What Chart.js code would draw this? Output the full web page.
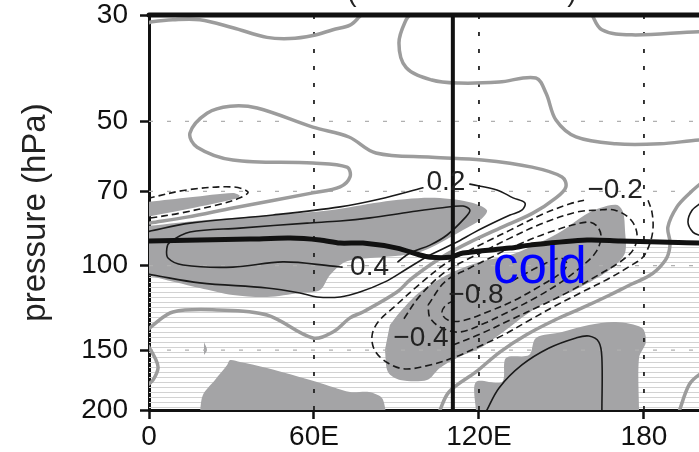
<!DOCTYPE html>
<html>
<head>
<meta charset="utf-8">
<script src="https://cdn.jsdelivr.net/npm/chart.js@4.4.0/dist/chart.umd.min.js"></script>
<style>
  html, body { margin: 0; padding: 0; background: #fff; overflow: hidden; }
  #wrap { width: 699px; height: 452px; overflow: hidden; position: relative; }
  canvas { position: absolute; left: 0; top: 0; }
</style>
</head>
<body>
<div id="wrap"><canvas id="chart" width="760" height="452"></canvas></div>
<script>
// axes
const lonTicks = [0, 60, 120, 180];
const lonTickLabels = ['0', '60E', '120E', '180'];
const presTicks = [30, 50, 70, 100, 150, 200];
const presGrid = [50, 70, 100, 150];
const lonMax = 222.2;

// [lon, hPa] pairs
const tropopause = [[0,88.8],[18.5,88.4],[36.7,88],[51.3,87.6],[62.2,88.4],[69.5,89.7],[77.8,89.7],[90.2,91.9],[98.5,95],[102.2,96],[109.5,96],[114.2,94.1],[131.3,91.9],[138.5,90.6],[159.3,88.4],[171.3,88.8],[185.8,89.3],[200,89.7],[222.2,89.7]];
const divider = [[110.5,30],[110.5,200]];

// shaded (significant) areas
const shadeA = [[-1,73.7],[15,72],[30.5,70.5],[33,71.5],[31,72.6],[15,76],[-1,79.2]];
const shadeB = [[-1,82.7],[21.1,80.3],[45.1,78.4],[65.8,76.6],[84,73.7],[102.2,72.2],[116.7,73.7],[122.9,76.6],[120.4,80.3],[114.2,84.3],[105.8,89.7],[98.5,93.7],[89.5,95.5],[80.4,96.4],[71.3,98.2],[65.8,104.6],[62.2,112.4],[54.9,114],[42.9,116.2],[30.5,115.1],[18.5,111.3],[-1,104.6]];
const shadeC = [[87.6,133],[91.3,124.9],[98.5,113.5],[110.5,103.1],[120.4,98.2],[131.3,95],[138.5,91.5],[149.5,85.1],[158.5,78.4],[164,75.8],[170.2,74.7],[172.4,77.3],[173.1,84.3],[173.1,94.1],[168.4,101.1],[160.4,108.1],[149.5,116.2],[140.7,122.5],[127.3,139.5],[120.4,148.5],[112.7,155.1],[105.8,163.4],[101.1,173.1],[91.3,173.1],[86.9,166.6],[85.8,149.9]];
const shadeD = [[118.9,202],[118.9,174.8],[128.4,174.8],[129.8,155.8],[138.2,153.6],[140.7,141.5],[150.2,137.5],[160,133],[169.8,131.1],[179.3,134.9],[180.7,144.3],[178.2,155.8],[178.2,202]];
const shadeE = [[18.5,202],[19.6,186],[24,173.1],[28.4,161.1],[29.5,157.3],[33.1,158.8],[42.9,163.4],[61.1,174.8],[73.1,183.4],[80,183.4],[84.7,188.7],[86.2,202]];
const shadeF = [[20,144.3],[21.1,149.9],[20,153.6]];

// zero lines (grey)
const zero1 = [[-0.5,31.2],[1.1,31],[8.7,30.7],[18.5,30.7],[30.5,31.9],[42.9,33.4],[51.3,33.6],[59.6,33.1],[66.9,32.2],[73.1,31.5],[76.4,30.3],[78,29.5]];
const zero2 = [[96,29.5],[93.5,30.7],[90.9,34.3],[93.5,38.6],[102.9,41],[112.7,41.6],[127.3,41.4],[140.7,40.6],[144.4,43.7],[148,49.7],[155.3,53.9],[169.8,55.7],[185.8,55.7],[200,54.7],[222,54]];
const zero3 = [[160.5,29.5],[164.7,32.2],[175.6,33],[200,32.5],[222,32.5]];
const zero4 = [[0.4,81.5],[13.8,79.2],[30.5,75.8],[59.6,70.5],[69.5,68.5],[73.1,65.3],[72,62.3],[59.6,61.1],[30.5,60.2],[17.5,56.6],[14.9,52.9],[21.1,48.1],[29.5,46.5],[39.3,46.9],[59.6,51.4],[72.7,53.9],[82.5,58.2],[102.9,59.4],[121.1,60.2],[139.3,62.3],[150.2,65.3],[151.6,68.5],[148,72.2],[139.6,77.7],[127.6,83.5],[116.7,89.3],[108.4,94.6],[102.2,99.7],[94.9,107.1],[90.2,113.5],[77.8,124.9],[73.1,128.5],[66.9,137.5],[59.6,141.5],[42.9,126.7],[24.7,123.7],[8.7,124.9],[1.5,133],[-0.5,136.2]];
const zero5 = [[-0.5,146.4],[2.2,155.8],[3.3,163.4],[1.5,173.1],[-0.5,177.3]];
const zero6 = [[105.5,202],[109.1,183.4],[118.9,166.6],[127.6,151.4],[137.1,139.5],[147.6,129.8],[157.5,122.5],[167.6,115.1],[175.6,109.2],[181.1,105.6],[184.7,102.1],[188.4,96],[189.5,89.7],[188.7,83.1],[192,75.4],[196.7,70.5],[200.7,67.3]];
const zero7 = [[192.7,202],[196.4,177.3],[200,169],[204,165]];

// positive contours (solid)
const pos02a = [[-0.5,84.9],[14.9,81.5],[45.1,78.4],[69.5,75.4],[84,72.6],[99.6,68.8]];
const pos02b = [[116.7,67.6],[126.5,69.5],[132.4,72.2],[136.7,74],[135.6,76.6],[131.3,78.4],[125.8,81.1],[118.5,85.1],[111.3,89.7],[102.2,95],[93.1,102.1],[85.8,108.1],[76.7,113.5],[69.5,116.2],[61.1,116.2],[54.9,114],[42.9,111.3],[18.5,108.6],[1.5,104.6],[-0.5,104.1]];
const pos04 = [[90.5,98.2],[94.9,94.1],[102.2,90.6],[108.4,86.3],[114.9,79.5],[116.7,76.6],[114.2,75.1],[105.8,75.8],[94.9,77.3],[80.4,79.5],[69.5,80.7],[57.5,81.5],[33.1,83.5],[14.9,85.1],[7.6,89.3],[6.5,91.9],[6.9,96.4],[12.4,99.7],[30.5,100.7],[48.7,98.2],[66.9,100.2],[70.2,100.7]];
const posLow = [[122.5,202],[127.3,179.9],[135.6,161.1],[145.5,148.5],[155.3,141.5],[160,140.2],[163.6,144.3],[164.7,155.8],[164.7,202]];
const posEdge = [[200.7,74],[197.5,76.6],[196,81.1],[197.8,85.1],[200.7,86.7]];

// negative contours (dashed)
const negWest = [[-0.5,72.4],[13.8,69.5],[30.5,68.5],[36,70.2],[33.1,72.2],[24.7,74.7],[11.3,77.7],[-0.5,79.7]];
const neg02 = [[181.5,73],[182.9,77.3],[183.3,83.5],[182.2,89.7],[179.6,96],[174.9,100.2],[167.6,106.1],[157.5,113.5],[147.6,121.4],[138.5,129.8],[129.5,138.9],[120.4,147.1],[111.3,155.1],[102.2,161.1],[93.1,164.2],[86.9,159.6],[82.2,150.6],[81.1,140.2],[83.3,131.1],[89.5,121.4],[98.5,109.2],[107.6,99.2],[116.7,92.8],[124,88.4],[131.3,84.3],[143.3,78],[153.1,74.3],[158.2,73]];
const neg04 = [[110.5,146.4],[120.4,138.9],[131.3,129.8],[142.2,121.4],[153.1,113],[164,104.1],[171.3,98.2],[176,92.8],[177.5,86.3],[175.3,80.3],[169.5,76.6],[162.9,76.6],[155.6,77.3],[143.3,81.5],[131.3,87.6],[124,91.9],[116.7,96.4],[107.6,103.1],[98.5,115.6],[92.4,129.8]];
const neg06 = [[101.5,120.8],[107.6,108.1],[116.7,101.1],[124,96.4],[131.3,91.9],[145.8,85.1],[159.3,81.1],[162.9,82.7],[164.4,87.1],[162.5,93.7],[157.5,100.2],[149.5,108.6],[140.4,116.8],[131.3,124.3],[122.2,131.7],[113.1,137.5],[106.5,134.9],[102.2,128.5],[101.5,120.8]];
const neg08 = [[132,107.6],[142.2,100.2],[149.5,96.4],[152,99.2],[150.2,103.1],[142.2,110.3],[132.4,118.5],[124,124.3],[113.8,130.4],[108.7,129.8],[106.5,125.5],[108,120.8],[111.6,117.9]];

// contour labels
const labelText = ['0.2', '0.4', '\u22120.2', '\u22120.8', '\u22120.4'];
const labelLon = [108, 80.2, 169.5, 118.9, 98.9];
const labelPres = [66.9, 100.7, 69.5, 115.4, 141.5];

const FONT = '"Liberation Sans", Arial, Helvetica, sans-serif';
const SHADE = '#a4a4a6';
const GREY = '#9c9c9c';
const INK = '#1a1a1a';

function path(pts) { return pts.map(([x, y]) => ({ x, y })); }

function contour(pts, color, width, dash, order, tension) {
  return {
    data: path(pts), showLine: true, borderColor: color, borderWidth: width,
    borderDash: dash || [], borderCapStyle: dash ? 'butt' : 'round', borderJoinStyle: 'round',
    pointRadius: 0, fill: false, tension: tension === undefined ? 0.35 : tension, order
  };
}

function patch(pts, order) {
  return {
    data: path(pts), showLine: true, borderWidth: 0, borderColor: 'rgba(0,0,0,0)',
    backgroundColor: SHADE, fill: 'shape', pointRadius: 0, tension: 0.3, order
  };
}

// horizontal hatching under the thick line
const tile = document.createElement('canvas');
tile.width = 8; tile.height = 5;
const tctx = tile.getContext('2d');
tctx.fillStyle = '#d2d2d2';
tctx.fillRect(0, 2, 8, 1);

const datasets = [];
datasets.push({
  data: path(tropopause), showLine: true, borderWidth: 0, borderColor: 'rgba(0,0,0,0)',
  backgroundColor: tctx.createPattern(tile, 'repeat'), fill: { value: 200 },
  pointRadius: 0, tension: 0.3, order: 100
});
[shadeA, shadeB, shadeC, shadeD, shadeE, shadeF].forEach(s => datasets.push(patch(s, 90)));

// grid
presGrid.forEach(p => datasets.push(contour([[0, p], [lonMax, p]], '#b0b0b0', 1.3, [4, 14], 80, 0)));
lonTicks.slice(1).forEach(l => datasets.push(contour([[l, 30], [l, 200]], '#222', 1.8, [4, 13], 80, 0)));

[zero1, zero2, zero3, zero4, zero5, zero6, zero7].forEach(z => datasets.push(contour(z, GREY, 3.5, null, 70)));
[pos02a, pos02b, pos04, posLow, posEdge].forEach(c => datasets.push(contour(c, INK, 1.6, null, 60)));
[negWest, neg02, neg04, neg06, neg08].forEach(c => datasets.push(contour(c, INK, 1.6, [7, 4], 60)));

datasets.push(contour(tropopause, '#111', 5, null, 50, 0.3));
datasets.push(contour(divider, '#111', 4, null, 50, 0));
const topEdge = contour([[0, 30], [lonMax, 30]], '#111', 5, null, 40, 0);
topEdge.clip = false;
datasets.push(topEdge);

const textPlugin = {
  id: 'contourText',
  afterDatasetsDraw(chart) {
    const { ctx, scales: { x, y } } = chart;
    ctx.save();
    ctx.fillStyle = '#222';
    ctx.font = '28px ' + FONT;
    ctx.textAlign = 'center';
    ctx.textBaseline = 'middle';
    labelText.forEach((t, i) => {
      ctx.fillText(t, x.getPixelForValue(labelLon[i]), y.getPixelForValue(labelPres[i]));
    });
    // bottoms of the cut-off title brackets
    ctx.textBaseline = 'alphabetic';
    ctx.fillText('(', x.getPixelForValue(73.8), y.getPixelForValue(28.05));
    ctx.fillText(')', x.getPixelForValue(153.8), y.getPixelForValue(28.05));
    ctx.fillStyle = '#0000ff';
    ctx.font = '51px ' + FONT;
    ctx.textAlign = 'left';
    ctx.fillText('cold', x.getPixelForValue(125.1), y.getPixelForValue(108.6));
    ctx.restore();
  }
};

new Chart(document.getElementById('chart'), {
  type: 'scatter',
  data: { datasets },
  options: {
    responsive: false,
    animation: false,
    devicePixelRatio: 1,
    layout: { padding: { top: 15, left: 0, right: 0, bottom: 0 } },
    plugins: { legend: { display: false }, tooltip: { enabled: false } },
    scales: {
      x: {
        type: 'linear', min: 0, max: lonMax,
        afterBuildTicks: s => { s.ticks = lonTicks.map(v => ({ value: v })); },
        afterFit: s => { s.height = 42; s.paddingLeft = 0; s.paddingRight = 0; },
        ticks: {
          callback: (v, i) => lonTickLabels[i],
          font: { family: FONT, size: 28 }, color: '#111', padding: 1,
          maxRotation: 0, autoSkip: false
        },
        grid: { drawOnChartArea: false, tickLength: 9, tickWidth: 2.5, tickColor: '#111' },
        border: { color: '#111', width: 3 }
      },
      y: {
        type: 'logarithmic', reverse: true, min: 30, max: 200,
        afterBuildTicks: s => { s.ticks = presTicks.map(v => ({ value: v })); },
        afterFit: s => { s.width = 149; s.paddingTop = 0; s.paddingBottom = 0; },
        ticks: {
          callback: v => String(v),
          font: { family: FONT, size: 28, lineHeight: 1.1 }, color: '#111', padding: 12,
          autoSkip: false
        },
        grid: { drawOnChartArea: false, tickLength: 9, tickWidth: 2.5, tickColor: '#111' },
        border: { color: '#111', width: 3 },
        title: {
          display: true, text: 'pressure (hPa)', color: '#222',
          font: { family: FONT, size: 33 }, padding: { top: 16, bottom: 0 }
        }
      }
    }
  },
  plugins: [textPlugin]
});
</script>
</body>
</html>
